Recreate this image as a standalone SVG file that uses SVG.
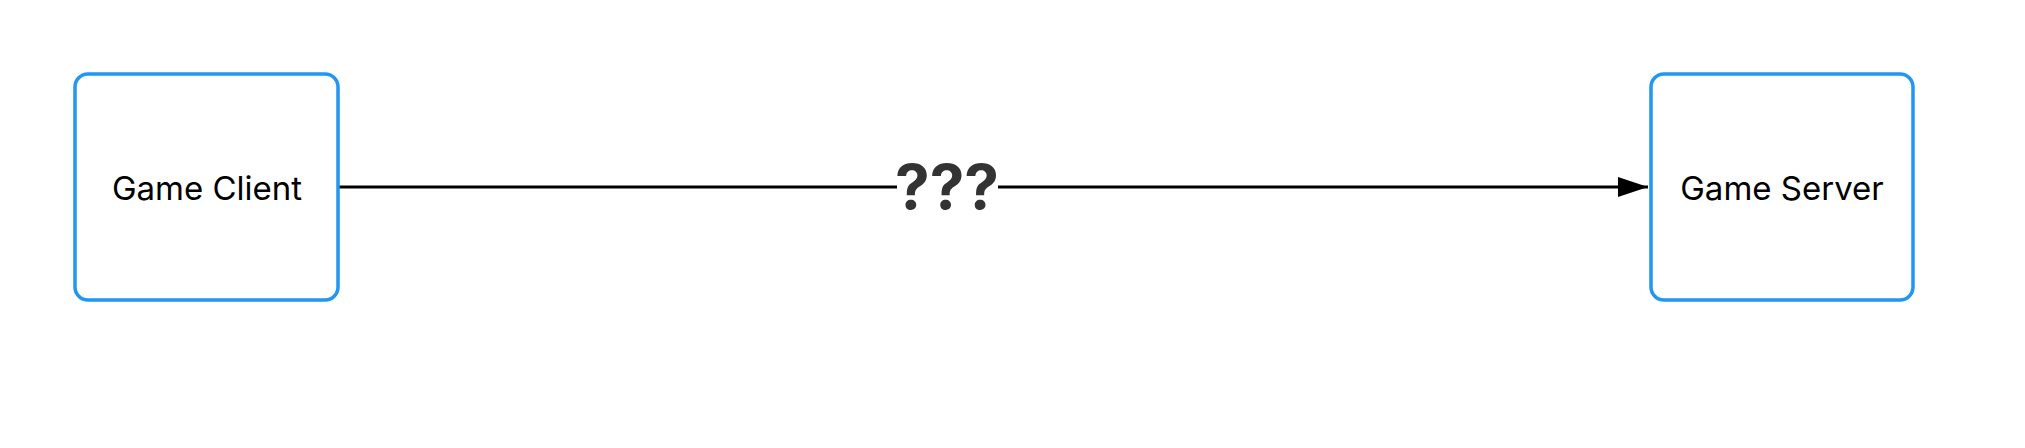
<svg xmlns="http://www.w3.org/2000/svg" width="2025" height="448" viewBox="0 0 2025 448">
<style>
.node rect{fill:#fff;stroke:#2196f3;stroke-width:3.5}
.node text{font-family:Inter,"Liberation Sans",sans-serif;font-size:33px;fill:#000;text-anchor:middle;dominant-baseline:central}
.edge{stroke:#000;stroke-width:3;fill:none}
.elabel{font-family:Inter,"Liberation Sans",sans-serif;font-size:62px;font-weight:700;fill:#333;text-anchor:middle;dominant-baseline:central}
</style>
<defs>
<marker id="arrow" viewBox="0 0 30 20" refX="30" refY="10" markerWidth="30" markerHeight="20" markerUnits="userSpaceOnUse" orient="auto">
<path d="M0,0 L30,10 L0,20 Z" fill="#000"/>
</marker>
</defs>
<rect width="2025" height="448" fill="#fff"/>
<g id="connectors">
<line class="edge" x1="338" y1="187" x2="1648" y2="187" marker-end="url(#arrow)"/>
<rect x="897" y="160" width="101" height="54" fill="#fff"/>
<text class="elabel" x="947" y="186">???</text>
</g>
<g id="client" class="node">
<rect x="75" y="74" width="263" height="226" rx="13" ry="13"/>
<text x="207" y="188">Game Client</text>
</g>
<g id="server" class="node">
<rect x="1651" y="74" width="262" height="226" rx="13" ry="13"/>
<text x="1782" y="188">Game Server</text>
</g>
</svg>
